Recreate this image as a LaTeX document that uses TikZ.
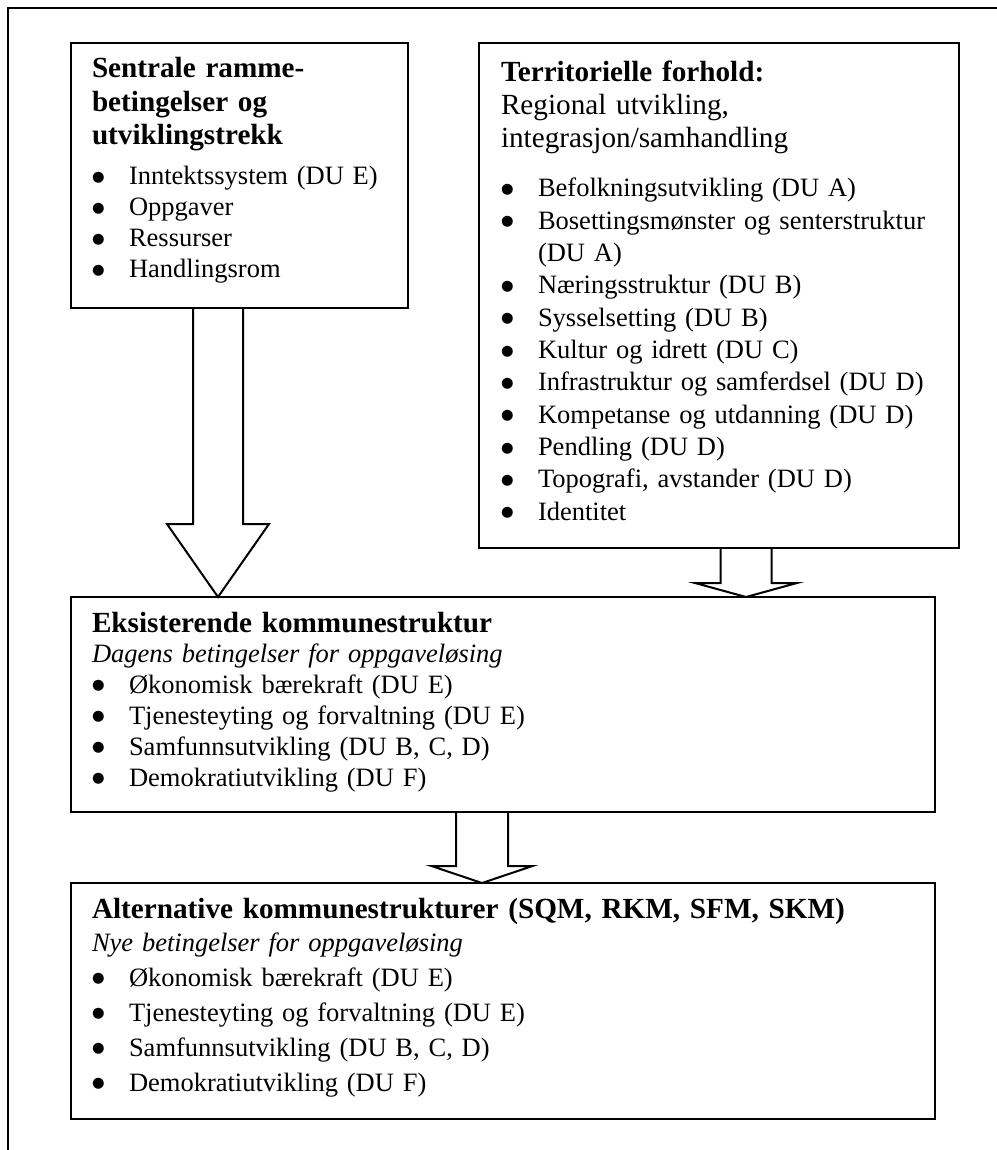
\documentclass[tikz,border=0pt]{standalone}
\usepackage{fontspec}
\setmainfont{Liberation Serif}
\newfontfamily\symf{DejaVu Sans}
\usetikzlibrary{calc}
\newcommand\blt{\makebox[18.5pt][l]{\raisebox{1.7pt}{\symf\fontsize{7.2}{8}\selectfont ●}}}
\newcommand\cnt{\hspace*{18.5pt}}
\begin{document}
\begin{tikzpicture}[x=0.5pt,y=-0.5pt,
  box/.style={draw, line width=1pt, anchor=north west, inner sep=0pt, outer sep=0pt},
  barrow/.style={draw, line width=1pt, line join=miter, line cap=butt},
  txt/.style={anchor=base west, inner sep=0pt, outer sep=0pt, align=left, text width=#1},
  ttl/.style={font=\fontsize{14.6}{16.75}\selectfont\bfseries},
  hdr/.style={font=\fontsize{14.6}{16.5}\selectfont},
  bdy/.style={font=\fontsize{13.25}{15.5}\selectfont},
  bdyr/.style={font=\fontsize{13.25}{16.15}\selectfont},
  bdya/.style={font=\fontsize{13.25}{17.5}\selectfont}
]
\useasboundingbox (0,0) rectangle (996,1150);
% outer frame
\draw[line width=1.2pt] (8,1160) -- (8,8) -- (1010,8);

% boxes
\node[box, minimum width=168.5pt, minimum height=132.5pt] (L) at (71,43) {};
\node[box, minimum width=240pt, minimum height=252.5pt] (R) at (479,43) {};
\node[box, minimum width=432pt, minimum height=107.5pt] (E) at (71,597) {};
\node[box, minimum width=432pt, minimum height=118pt] (A) at (71,883) {};

% left box text
\node[txt=160pt, ttl] (Lt) at ($(L.north west)+(21,35)$) {Sentrale ramme-\\betingelser og\\utviklingstrekk};
\node[txt=160pt, bdy] (Li) at ($(L.north west)+(21,142)$) {\blt Inntektssystem (DU E)\\\blt Oppgaver\\\blt Ressurser\\\blt Handlingsrom};

% right box text
\node[txt=230pt, hdr] (Rt) at ($(R.north west)+(22,39)$) {\textbf{Territorielle forhold:}\\Regional utvikling,\\integrasjon/samhandling};
\node[txt=230pt, bdyr] (Ri) at ($(R.north west)+(22,154)$) {\blt Befolkningsutvikling (DU A)\\\blt Bosettingsmønster og senterstruktur\\\cnt(DU A)\\\blt Næringsstruktur (DU B)\\\blt Sysselsetting (DU B)\\\blt Kultur og idrett (DU C)\\\blt Infrastruktur og samferdsel (DU D)\\\blt Kompetanse og utdanning (DU D)\\\blt Pendling (DU D)\\\blt Topografi, avstander (DU D)\\\blt Identitet};

% existing structure text
\node[txt=420pt, ttl] (Et) at ($(E.north west)+(21,35)$) {Eksisterende kommunestruktur};
\node[txt=420pt, bdy] (Ei) at ($(E.north west)+(21,65)$) {\textit{Dagens betingelser for oppgaveløsing}\\\blt Økonomisk bærekraft (DU E)\\\blt Tjenesteyting og forvaltning (DU E)\\\blt Samfunnsutvikling (DU B, C, D)\\\blt Demokratiutvikling (DU F)};

% alternative structures text
\node[txt=420pt, ttl] (At) at ($(A.north west)+(21,35)$) {Alternative kommunestrukturer (SQM, RKM, SFM, SKM)};
\node[txt=420pt, bdya] (Ai) at ($(A.north west)+(21,68)$) {\textit{Nye betingelser for oppgaveløsing}\\\blt Økonomisk bærekraft (DU E)\\\blt Tjenesteyting og forvaltning (DU E)\\\blt Samfunnsutvikling (DU B, C, D)\\\blt Demokratiutvikling (DU F)};

% block arrows
\coordinate (xa) at (218,0);
\coordinate (xb) at (746,0);
\coordinate (xc) at (482,0);
\draw[barrow] ($(L.south -| xa)+(-25,0)$) -- ($(E.north -| xa)+(-25,-73)$) -- ($(E.north -| xa)+(-51,-73)$) -- (E.north -| xa) -- ($(E.north -| xa)+(51,-73)$) -- ($(E.north -| xa)+(25,-73)$) -- ($(L.south -| xa)+(25,0)$);
\draw[barrow] ($(R.south -| xb)+(-25.5,0)$) -- ($(E.north -| xb)+(-25.5,-14)$) -- ($(E.north -| xb)+(-51,-14)$) -- (E.north -| xb) -- ($(E.north -| xb)+(51,-14)$) -- ($(E.north -| xb)+(25.5,-14)$) -- ($(R.south -| xb)+(25.5,0)$);
\draw[barrow] ($(E.south -| xc)+(-26,0)$) -- ($(A.north -| xc)+(-26,-17)$) -- ($(A.north -| xc)+(-50.5,-17)$) -- (A.north -| xc) -- ($(A.north -| xc)+(50.5,-17)$) -- ($(A.north -| xc)+(26,-17)$) -- ($(E.south -| xc)+(26,0)$);
\end{tikzpicture}
\end{document}
